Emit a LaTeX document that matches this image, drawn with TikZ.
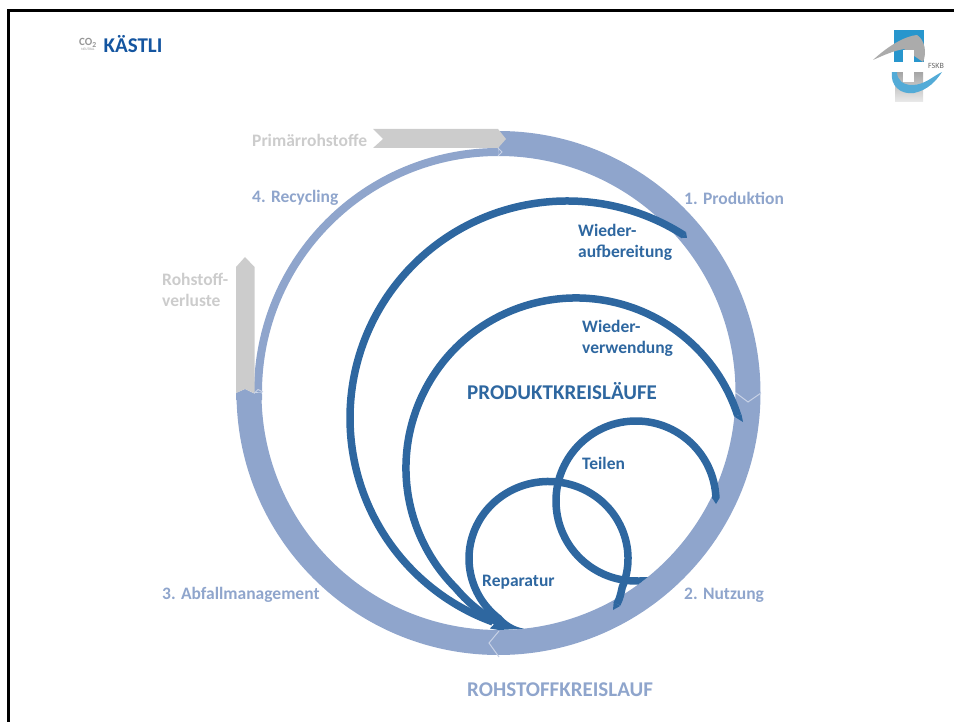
\documentclass[tikz,border=0pt]{standalone}
\usepackage{fontspec}
\setmainfont{Carlito}
\definecolor{ringblue}{RGB}{143,165,204}
\definecolor{ringedge}{RGB}{200,210,230}
\definecolor{loopblue}{RGB}{46,103,160}
\definecolor{lossgray}{RGB}{204,204,204}
\definecolor{logoblue}{RGB}{20,85,160}
\definecolor{logocyan}{RGB}{40,150,205}
\definecolor{logogray}{RGB}{150,150,150}
\begin{document}
\begin{tikzpicture}[x=1pt, y=-1pt,
    ringlabel/.style = {font=\fontsize{17.5}{21}\selectfont\bfseries, text=ringblue, anchor=west, align=left, inner sep=0pt},
    graylabel/.style = {ringlabel, text=lossgray},
    looplabel/.style = {ringlabel, text=loopblue},
    titlelabel/.style = {looplabel, font=\fontsize{21}{24}\selectfont\bfseries},
    loopline/.style = {draw=loopblue, line width=7.5pt},
    edge/.style = {draw=ringedge, line width=1pt}]
\useasboundingbox (0,0) rectangle (954,722);
\draw[line width=3pt] (8,722) -- (8,11) -- (954,11);
% logos
\node (co2) at (88,43) [inner sep=0pt, text=logogray, font=\fontsize{11}{11}\selectfont\bfseries] {CO\textsubscript{2}};
\node (neutral) at (88,49) [inner sep=0pt, text=logogray, font=\fontsize{3.5}{4}\selectfont] {NEUTRAL};
\node (kaestli) at (133,44) [inner sep=0pt, text=logoblue, font=\fontsize{21}{21}\selectfont\bfseries] {KÄSTLI};
\fill[logocyan] (894,30) rectangle (924,62);
\fill[logogray!80] (873,60) .. controls (888,46) and (905,36) .. (917,35) .. controls (925,40) and (927,53) .. (923,62) -- (904,49) .. controls (893,51) and (884,55) .. (873,60);
\shade[top color=logogray!90, bottom color=logogray!20] (895,70) rectangle (923,102);
\fill[logocyan!80] (892,72) .. controls (890,85) and (900,95) .. (914,93) .. controls (928,90) and (936,81) .. (942,72) .. controls (933,76) and (925,85) .. (912,85) .. controls (903,85) and (897,80) .. (897,72) -- cycle;
\fill[white] (903,50) rectangle (914,82);
\fill[white] (892,62) rectangle (925,72);
\node (fskb) at (936,66) [inner sep=0pt, text=logogray!70!black, font=\fontsize{8}{8}\selectfont] {FSKB};
% rohstoffkreislauf
\draw[ringblue, line width=25pt] (498.5,143.5) arc[start angle=90, end angle=-180, radius=249.5pt];
\fill[ringblue] (236,393) -- (245,389) -- (254,393.5) -- (262,393.5) -- (262,400) -- (236,400) -- cycle;
\draw[ringblue, line width=8pt] (498.5,152) arc[start angle=90, end angle=180, radius=240.5pt];
\fill[lossgray] (373,129) -- (498,129) -- (506,139) -- (498,148) -- (373,148) -- (383,139) -- cycle;
\fill[lossgray] (236,393) -- (236,267) -- (245,257) -- (254.5,267) -- (254.5,393.5) -- (245,389) -- cycle;
\draw[edge] (736,393) -- (748,402) -- (761,393);
\draw[edge] (499,631) -- (489,643) -- (499,657);
\draw[edge] (498,148) -- (502,152) -- (498,156);
\draw[edge] (254,393.5) -- (258,389.5) -- (263,392);
% produktkreislaeufe
\draw[loopline] ({567+217*cos(57.4)},{418-217*sin(57.4)}) arc[start angle=57.4, end angle=250, radius=217pt];
\draw[loopline] ({576+170*cos(18)},{468-170*sin(18)}) arc[start angle=18, end angle=225, radius=170pt] .. controls (470,605) and (484,615) .. (497,622);
\draw[loopline] ({636+80*cos(2)},{501-80*sin(2)}) arc[start angle=2, end angle=271.5, radius=80pt];
\draw[loopline] (617,604) .. controls (620,598) and (621,593) .. ({548.5+79.5*cos(-22)},{558.5-77*sin(-22)}) arc[start angle=-22, end angle=232, x radius=79.5pt, y radius=77pt];
\fill[loopblue] (682,238) -- (687,238) -- (686,231.8) -- cycle;
\fill[loopblue] (734.4,416.7) -- (743,422) -- (741.5,414.3) -- cycle;
\fill[loopblue] (712.2,498.1) -- (716,504) -- (719.7,497.9) -- cycle;
\fill[loopblue] (613.7,602.1) -- (613,610) -- (620.3,605.9) -- cycle;
\fill[loopblue] (638,577.3) -- (648,577) -- (638,584.7) -- cycle;
\fill[loopblue] (501.5,616.2) .. controls (507,622) and (514,627) .. (524,628.7) -- (499,630) -- (490,628.5) -- cycle;
% labels
\node[graylabel] (primaer) at (252,140) {Primärrohstoffe};
\node[ringlabel] (recycling) at (252,198) {4. Recycling};
\node[ringlabel] (produktion) at (684,198) {1. Produktion};
\node[graylabel] (verluste) at (162,290) {Rohstoff-\\verluste};
\node[ringlabel] (abfall) at (162,595) {3. Abfallmanagement};
\node[ringlabel] (nutzung) at (684,595) {2. Nutzung};
\node[looplabel] (aufbereitung) at (578,242) {Wieder-\\aufbereitung};
\node[looplabel] (verwendung) at (582,338) {Wieder-\\verwendung};
\node[looplabel] (teilen) at (582,463) {Teilen};
\node[looplabel] (reparatur) at (482,582) {Reparatur};
\node[titlelabel] (produkt) at (467,391) {PRODUKTKREISLÄUFE};
\node[titlelabel, text=ringblue] (rohstoff) at (467,690) {ROHSTOFFKREISLAUF};
\end{tikzpicture}
\end{document}
